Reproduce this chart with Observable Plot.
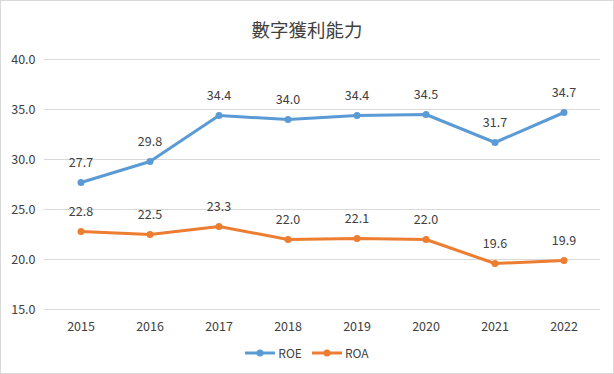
<!DOCTYPE html>
<html><head><meta charset="utf-8">
<script src="https://cdn.jsdelivr.net/npm/d3@7"></script>
<script src="https://cdn.jsdelivr.net/npm/@observablehq/plot@0.6"></script>
<style>
body{margin:0;background:#fff;font-family:"Noto Sans CJK TC","Noto Sans",sans-serif;}
#wrap{width:614px;height:374px;box-sizing:border-box;border:1px solid #d9d9d9;position:relative;background:#fff;}
#title{height:47px;text-align:center;font-size:18.5px;color:#404040;line-height:20px;padding-top:18px;box-sizing:border-box;}
#legend{position:absolute;left:0;right:0;top:343px;display:flex;justify-content:center;gap:10px;font-size:12px;color:#404040;}
.item{display:flex;align-items:center;gap:3px;}
</style></head>
<body><div id="wrap"><div id="title">數字獲利能力</div><div id="chart"></div><div id="legend"></div></div>
<script>
const years = ["2015","2016","2017","2018","2019","2020","2021","2022"];
const roe = [27.7,29.8,34.4,34.0,34.4,34.5,31.7,34.7];
const roa = [22.8,22.5,23.3,22.0,22.1,22.0,19.6,19.9];
const seriesNames = ["ROE","ROA"];
const colors = ["#5B9BD5","#ED7D31"];
const yTicks = [15,20,25,30,35,40];

const data = [];
years.forEach((y,i)=>{data.push({year:y,value:roe[i],s:"ROE"});data.push({year:y,value:roa[i],s:"ROA"});});

const plot = Plot.plot({
  width:612, height:292,
  marginLeft:43, marginRight:13, marginTop:11, marginBottom:31,
  style:{fontFamily:"'Noto Sans CJK TC','Noto Sans',sans-serif",fontSize:"12.5px",color:"#404040",background:"transparent"},
  x:{type:"band",domain:years,padding:0,label:null},
  y:{domain:[15,40],label:null},
  color:{domain:seriesNames,range:colors},
  marks:[
    Plot.ruleY(yTicks,{stroke:"#d9d9d9",strokeWidth:1}),
    Plot.axisY({ticks:yTicks,tickSize:0,tickPadding:9,tickFormat:d=>d.toFixed(1),label:null}),
    Plot.axisX({tickSize:0,tickPadding:13,label:null}),
    Plot.line(data,{x:"year",y:"value",z:"s",stroke:"s",strokeWidth:3,strokeLinejoin:"round"}),
    Plot.dot(data,{x:"year",y:"value",fill:"s",r:3.5}),
    Plot.text(data,{x:"year",y:"value",text:d=>d.value.toFixed(1),dy:-20,fill:"#404040",fontSize:12.5})
  ]
});
document.getElementById("chart").appendChild(plot);

const leg = document.getElementById("legend");
seriesNames.forEach((n,i)=>{
  const it=document.createElement("div");it.className="item";
  it.innerHTML=`<svg width="30" height="10"><line x1="0" y1="5" x2="30" y2="5" stroke="${colors[i]}" stroke-width="3"/><circle cx="15" cy="5" r="3.5" fill="${colors[i]}"/></svg><span>${n}</span>`;
  leg.appendChild(it);
});
</script></body></html>
